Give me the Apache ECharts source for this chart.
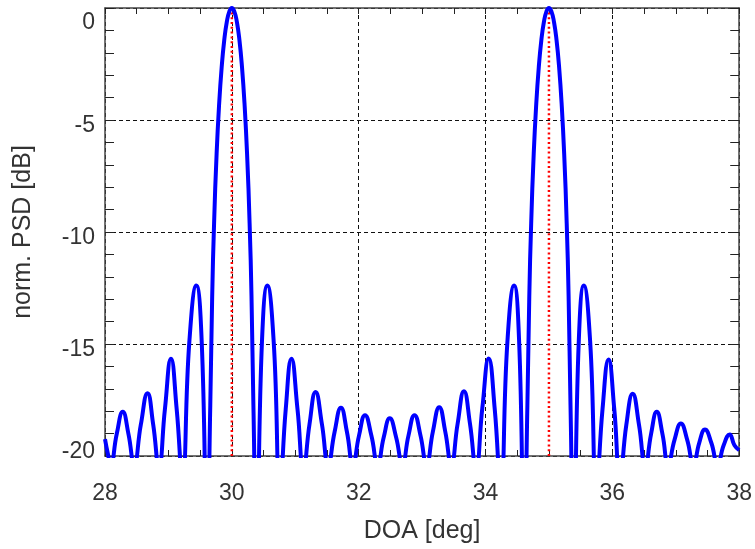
<!DOCTYPE html>
<html><head><meta charset="utf-8">
<script src="https://cdn.jsdelivr.net/npm/echarts@6/dist/echarts.min.js"></script>
<style>html,body{margin:0;padding:0;background:#fff}#c{width:755px;height:549px}</style>
</head><body><div id="c"></div>
<script>
// DOA axis positions (deg) of the read-off points of the spectrum
const doa = [
  28.00, 28.045, 28.09, 28.185, 28.28, 28.37, 28.46, 28.565, 28.67, 28.76,
  28.85, 28.945, 29.04, 29.13, 29.22, 29.33, 29.44, 29.525, 29.61,
  29.66, 29.69, 29.72, 29.76, 29.80, 29.84, 29.88, 29.92, 29.96, 30.00,
  30.04, 30.08, 30.12, 30.16, 30.20, 30.24, 30.28, 30.31, 30.34,
  30.39, 30.475, 30.56, 30.66, 30.76, 30.85, 30.94, 31.035, 31.13, 31.225,
  31.32, 31.42, 31.52, 31.62, 31.72, 31.815, 31.91, 32.005, 32.10, 32.20,
  32.30, 32.395, 32.49, 32.59, 32.69, 32.785, 32.88, 32.975, 33.07, 33.17,
  33.27, 33.365, 33.46, 33.56, 33.66, 33.755, 33.85, 33.95, 34.05, 34.145,
  34.24, 34.345, 34.45, 34.53, 34.61,
  34.66, 34.69, 34.72, 34.76, 34.80, 34.84, 34.88, 34.92, 34.96, 35.00,
  35.04, 35.08, 35.12, 35.16, 35.20, 35.24, 35.28, 35.31, 35.34,
  35.39, 35.47, 35.55, 35.65, 35.75, 35.845, 35.94, 36.03, 36.12, 36.22,
  36.32, 36.42, 36.52, 36.61, 36.70, 36.79, 36.88, 36.98, 37.08, 37.18,
  37.28, 37.37, 37.46, 37.56, 37.66, 37.755, 37.85, 37.925, 38.00
];
// normalized PSD (dB) read at those positions
const psd = [
  -19.25, -19.9, -20.4, -19.02, -18.03, -19.02, -20.4, -18.6, -17.2, -18.6,
  -20.5, -17.9, -15.66, -17.9, -21.0, -14.9, -12.39, -14.9, -24.0,
  -17.74, -12.88, -9.61, -6.50, -4.27, -2.63, -1.44, -0.63, -0.16, 0.00,
  -0.16, -0.63, -1.44, -2.63, -4.27, -6.50, -9.61, -12.88, -17.74,
  -24.0, -14.9, -12.39, -14.9, -21.5, -17.9, -15.66, -17.9, -20.6, -18.57,
  -17.14, -18.57, -20.4, -18.93, -17.85, -18.93, -20.4, -19.09, -18.18, -19.09,
  -20.4, -19.16, -18.32, -19.16, -20.4, -19.09, -18.18, -19.09, -20.4, -18.91,
  -17.82, -18.91, -20.4, -18.56, -17.11, -18.56, -20.6, -17.85, -15.65, -17.9,
  -21.5, -14.9, -12.39, -14.9, -24.0,
  -17.74, -12.88, -9.61, -6.50, -4.27, -2.63, -1.44, -0.63, -0.16, 0.00,
  -0.16, -0.63, -1.44, -2.63, -4.27, -6.50, -9.61, -12.88, -17.74,
  -24.0, -14.9, -12.39, -14.9, -21.5, -17.9, -15.69, -17.9, -21.0, -18.61,
  -17.22, -18.61, -20.5, -19.02, -18.03, -19.02, -20.4, -19.28, -18.55, -19.28,
  -20.4, -19.41, -18.82, -19.41, -20.4, -19.52, -19.04, -19.52, -19.74
];
// true directions of arrival (deg)
const trueDoa = [30, 35];
const xRange = [28, 38];
const yRange = [-20, 0];

const FONT = '"Liberation Sans", Arial, Helvetica, sans-serif';
const TXT = '#333333';

const chart = echarts.init(document.getElementById('c'), null, {renderer: 'canvas'});

function xAx(pos, main) {
  return {
    type: 'value', position: pos, min: xRange[0], max: xRange[1], interval: 2,
    name: main ? 'DOA [deg]' : '', nameLocation: 'middle', nameGap: 63,
    nameTextStyle: {fontSize: 25, color: TXT, fontFamily: FONT},
    axisLine: {show: true, onZero: false, lineStyle: {color: '#444', width: 1.5}},
    axisTick: {show: true, inside: true, length: 6, lineStyle: {color: '#222', width: 1}},
    minorTick: {show: true, splitNumber: 4, length: 6, lineStyle: {color: '#222', width: 1}},
    axisLabel: {show: main, margin: 26, fontSize: 23, color: TXT, fontFamily: FONT},
    splitLine: {show: main, lineStyle: {type: [4, 3], color: '#111', width: 1}},
    minorSplitLine: {show: false}
  };
}
function yAx(pos, main) {
  return {
    type: 'value', position: pos, min: yRange[0], max: yRange[1], interval: 5,
    name: main ? 'norm. PSD [dB]' : '', nameLocation: 'middle', nameGap: 69,
    nameTextStyle: {fontSize: 25, color: TXT, fontFamily: FONT},
    axisLine: {show: true, onZero: false, lineStyle: {color: '#444', width: 1.5}},
    axisTick: {show: true, inside: true, length: 9, lineStyle: {color: '#222', width: 1}},
    minorTick: {show: true, splitNumber: 5, length: 9, lineStyle: {color: '#222', width: 1}},
    axisLabel: {
      show: main, margin: 10, fontSize: 23, color: TXT, fontFamily: FONT,
      formatter: function (v) {
        if (v === 0) return '{t|0}';
        if (v === -20) return '{b|-20}';
        return '{m|' + v + '}';
      },
      rich: {
        t: {fontSize: 23, color: TXT, fontFamily: FONT, padding: [30, 0, 0, 0]},
        m: {fontSize: 23, color: TXT, fontFamily: FONT, padding: [11, 0, 0, 0]},
        b: {fontSize: 23, color: TXT, fontFamily: FONT, padding: [0, 0, 8, 0]}
      }
    },
    splitLine: {show: main, lineStyle: {type: [4, 3], color: '#111', width: 1}},
    minorSplitLine: {show: false}
  };
}

const series = trueDoa.map(function (d) {
  return {
    type: 'line', xAxisIndex: 0, yAxisIndex: 0, silent: true,
    data: [[d, yRange[0]], [d, yRange[1]]],
    showSymbol: false, symbol: 'none',
    lineStyle: {color: '#ff0000', width: 2.5, type: [2, 2.8]},
    z: 2
  };
});
series.push({
  type: 'line', xAxisIndex: 0, yAxisIndex: 0,
  data: doa.map(function (x, i) { return [x, psd[i]]; }),
  showSymbol: false, symbol: 'none', smooth: 0.5, clip: true,
  lineStyle: {color: '#0000ff', width: 4},
  z: 3
});

chart.setOption({
  animation: false,
  backgroundColor: '#ffffff',
  grid: {left: 105, right: 14, top: 8, bottom: 92, containLabel: false},
  xAxis: [xAx('bottom', true), xAx('top', false)],
  yAxis: [yAx('left', true), yAx('right', false)],
  series: series
});
</script>
</body></html>
